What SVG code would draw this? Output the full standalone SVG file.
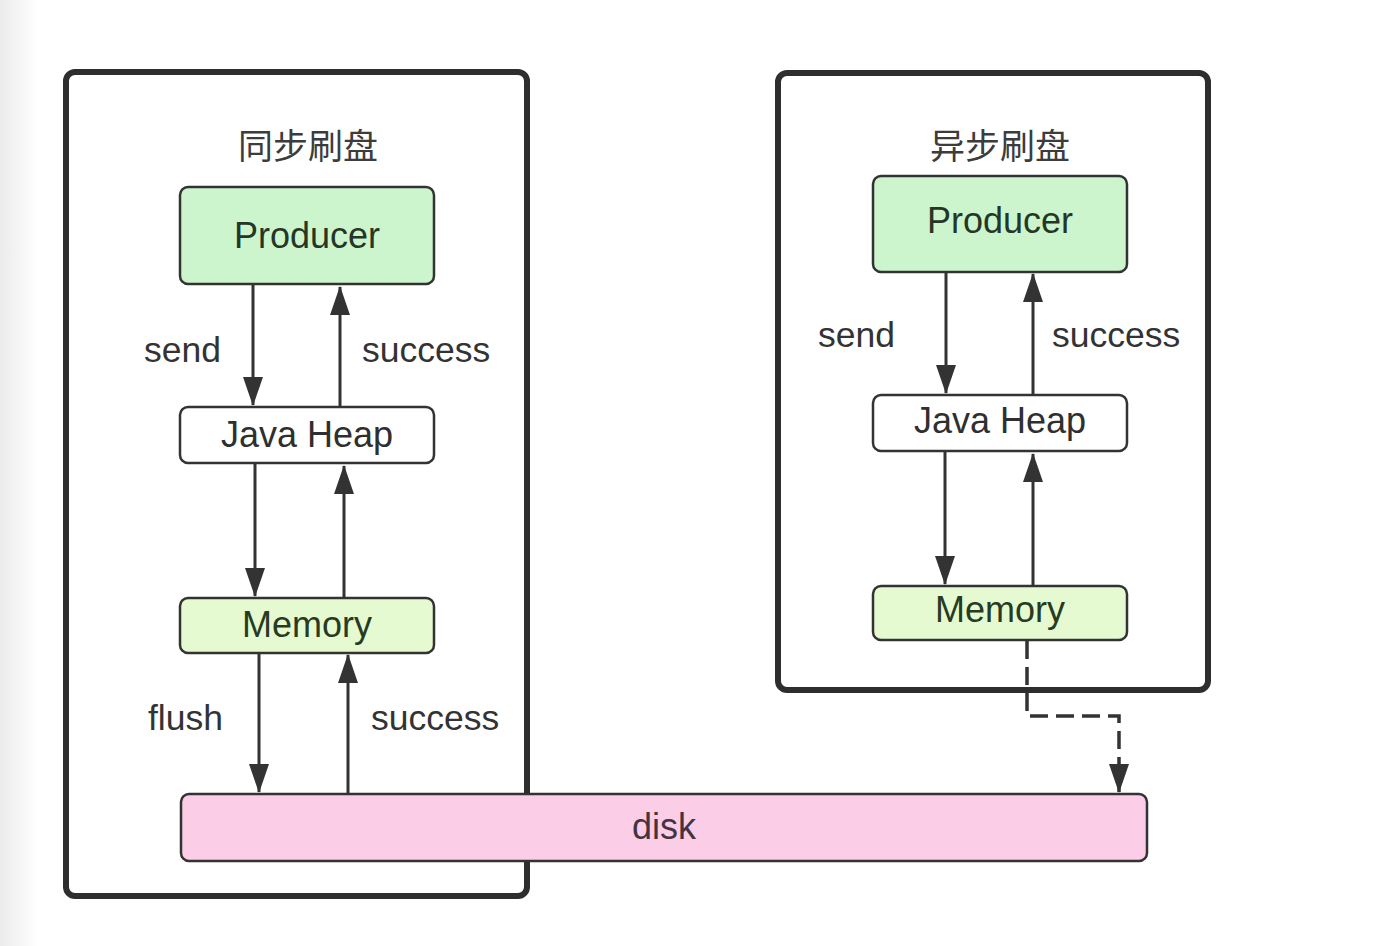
<svg xmlns="http://www.w3.org/2000/svg" width="1386" height="946" viewBox="0 0 1386 946">
<style>
.frame{fill:none;stroke:#2e2e2e;stroke-width:6}
.node{stroke:#333;stroke-width:2.5}
.prod{fill:#ccf5cd}
.heap{fill:#ffffff}
.mem{fill:#e5fad0}
.disk{fill:#fccde7}
.t{font-family:"Liberation Sans",Arial,sans-serif;font-size:36px;text-anchor:middle;fill:#2f2f2f}
.lbl{font-family:"Liberation Sans",Arial,sans-serif;font-size:35.5px;fill:#333}
.title{font-family:"Noto Sans CJK SC","Noto Sans",sans-serif;font-size:35px;text-anchor:middle;fill:#3c3c3c}
.edge{stroke:#333;stroke-width:3;fill:none}
.dash{stroke:#333;stroke-width:3.5;fill:none;stroke-dasharray:18 8}
</style>
<defs>
<linearGradient id="bg" x1="0" y1="0" x2="1" y2="0">
<stop offset="0" stop-color="#ebebeb"/>
<stop offset="1" stop-color="#ffffff"/>
</linearGradient>
<marker id="ah" markerUnits="userSpaceOnUse" markerWidth="29" markerHeight="20" refX="28" refY="10" orient="auto">
<path d="M0,0 L29,10 L0,20 z" fill="#333"/>
</marker>
</defs>
<rect x="0" y="0" width="1386" height="946" fill="#ffffff"/>
<rect x="0" y="0" width="38" height="946" fill="url(#bg)"/>

<g id="sync-frame">
<rect class="frame" x="66" y="72" width="461" height="824" rx="9"/>
<text class="title" x="308" y="159">同步刷盘</text>
</g>
<g id="async-frame">
<rect class="frame" x="778" y="73" width="430" height="617" rx="9"/>
<text class="title" x="1000" y="159">异步刷盘</text>
</g>

<g id="sync-producer">
<rect class="node prod" x="180" y="187" width="254" height="97" rx="8"/>
<text class="t" x="307" y="248" style="fill:#263626">Producer</text>
</g>
<g id="sync-heap">
<rect class="node heap" x="180" y="407" width="254" height="56" rx="8"/>
<text class="t" x="307" y="447">Java Heap</text>
</g>
<g id="sync-memory">
<rect class="node mem" x="180" y="598" width="254" height="55" rx="8"/>
<text class="t" x="307" y="637" style="fill:#283a22">Memory</text>
</g>

<g id="async-producer">
<rect class="node prod" x="873" y="176" width="254" height="96" rx="8"/>
<text class="t" x="1000" y="233" style="fill:#263626">Producer</text>
</g>
<g id="async-heap">
<rect class="node heap" x="873" y="395" width="254" height="56" rx="8"/>
<text class="t" x="1000" y="433">Java Heap</text>
</g>
<g id="async-memory">
<rect class="node mem" x="873" y="586" width="254" height="54" rx="8"/>
<text class="t" x="1000" y="622" style="fill:#283a22">Memory</text>
</g>

<g id="disk">
<rect class="node disk" x="181" y="794" width="966" height="67" rx="8"/>
<text class="t" x="664" y="839" style="fill:#43343f">disk</text>
</g>

<g id="connectors">
<line class="edge" x1="253" y1="285" x2="253" y2="405" marker-end="url(#ah)"/>
<line class="edge" x1="340" y1="406" x2="340" y2="287" marker-end="url(#ah)"/>
<line class="edge" x1="255" y1="464" x2="255" y2="596" marker-end="url(#ah)"/>
<line class="edge" x1="344" y1="597" x2="344" y2="466" marker-end="url(#ah)"/>
<line class="edge" x1="259" y1="654" x2="259" y2="792" marker-end="url(#ah)"/>
<line class="edge" x1="348" y1="793" x2="348" y2="655" marker-end="url(#ah)"/>

<line class="edge" x1="946" y1="273" x2="946" y2="393" marker-end="url(#ah)"/>
<line class="edge" x1="1033" y1="394" x2="1033" y2="274" marker-end="url(#ah)"/>
<line class="edge" x1="945" y1="452" x2="945" y2="584" marker-end="url(#ah)"/>
<line class="edge" x1="1033" y1="585" x2="1033" y2="454" marker-end="url(#ah)"/>

<path class="dash" d="M1027,641 L1027,716 L1119,716 L1119,792" marker-end="url(#ah)"/>

<text class="lbl" x="144" y="362">send</text>
<text class="lbl" x="362" y="362">success</text>
<text class="lbl" x="148" y="730">flush</text>
<text class="lbl" x="371" y="730">success</text>
<text class="lbl" x="818" y="347">send</text>
<text class="lbl" x="1052" y="347">success</text>
</g>
</svg>
